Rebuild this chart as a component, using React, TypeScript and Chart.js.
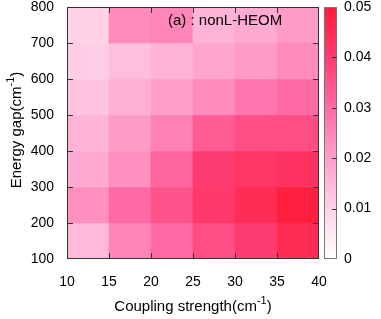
import { useEffect, useRef } from "react";
import { Chart, registerables } from "chart.js";

Chart.register(...registerables);

// ---- data ----
const xStarts = [10, 15, 20, 25, 30, 35];
const xStep = 5;
const yStarts = [100, 200, 300, 400, 500, 600, 700];
const yStep = 100;

const row100 = [0.015, 0.025, 0.03, 0.036, 0.04, 0.045];
const row200 = [0.023, 0.03, 0.035, 0.041, 0.045, 0.049];
const row300 = [0.018, 0.023, 0.031, 0.04, 0.042, 0.043];
const row400 = [0.016, 0.021, 0.026, 0.033, 0.036, 0.036];
const row500 = [0.013, 0.017, 0.02, 0.024, 0.028, 0.03];
const row600 = [0.011, 0.014, 0.016, 0.019, 0.021, 0.024];
const row700 = [0.01, 0.024, 0.025, 0.016, 0.018, 0.021];
const rows = [row100, row200, row300, row400, row500, row600, row700];

const xTickValues = [10, 15, 20, 25, 30, 35, 40];
const yTickValues = [100, 200, 300, 400, 500, 600, 700, 800];
const cbTickValues = [0, 0.01, 0.02, 0.03, 0.04, 0.05];
const cbMin = 0;
const cbMax = 0.05;

const xTitle = ["Coupling strength(cm", "-1", ")"];
const yTitle = ["Energy gap(cm", "-1", ")"];
const panelLabel = "(a) : nonL-HEOM";

// palette (fraction -> rgb)
const paletteStops: [number, number[]][] = [
  [0, [255, 255, 255]],
  [0.2, [255, 210, 232]],
  [0.4, [255, 160, 204]],
  [0.6, [255, 106, 164]],
  [0.8, [255, 60, 114]],
  [1, [255, 28, 56]],
];

function palette(v: number): string {
  const t = Math.max(0, Math.min(1, (v - cbMin) / (cbMax - cbMin)));
  for (let i = 1; i < paletteStops.length; i++) {
    const [t1, c1] = paletteStops[i];
    const [t0, c0] = paletteStops[i - 1];
    if (t <= t1) {
      const f = (t - t0) / (t1 - t0);
      const c = c0.map((a, k) => Math.round(a + (c1[k] - a) * f));
      return `rgb(${c[0]},${c[1]},${c[2]})`;
    }
  }
  const c = paletteStops[paletteStops.length - 1][1];
  return `rgb(${c[0]},${c[1]},${c[2]})`;
}

const FONT = "'Liberation Sans', Arial, Helvetica, sans-serif";

function drawSupText(
  ctx: CanvasRenderingContext2D,
  cx: number,
  cy: number,
  parts: string[],
  size: number,
  rotate: boolean
) {
  ctx.save();
  ctx.translate(cx, cy);
  if (rotate) ctx.rotate(-Math.PI / 2);
  const big = `${size}px ${FONT}`;
  const small = `${Math.round(size * 0.7)}px ${FONT}`;
  ctx.font = big;
  const w0 = ctx.measureText(parts[0]).width;
  const w2 = ctx.measureText(parts[2]).width;
  ctx.font = small;
  const w1 = ctx.measureText(parts[1]).width;
  let x = -(w0 + w1 + w2) / 2;
  ctx.fillStyle = "#000";
  ctx.textBaseline = "middle";
  ctx.textAlign = "left";
  ctx.font = big;
  ctx.fillText(parts[0], x, 0);
  x += w0;
  ctx.font = small;
  ctx.fillText(parts[1], x, -size * 0.42);
  x += w1;
  ctx.font = big;
  ctx.fillText(parts[2], x, 0);
  ctx.restore();
}

const decorPlugin = {
  id: "decor",
  afterDraw(chart: any) {
    const { ctx, chartArea } = chart;
    const { left, right, top, bottom } = chartArea;
    const xs = chart.scales.x;
    const ys = chart.scales.y;
    const cs = chart.scales.cb;
    ctx.save();
    // frame
    ctx.strokeStyle = "#333";
    ctx.lineWidth = 1;
    ctx.strokeRect(left + 0.5, top + 0.5, right - left - 1, bottom - top - 1);
    // inward ticks
    ctx.beginPath();
    xTickValues.slice(1, -1).forEach((v) => {
      const px = Math.round(xs.getPixelForValue(v)) + 0.5;
      ctx.moveTo(px, bottom);
      ctx.lineTo(px, bottom - 6);
      ctx.moveTo(px, top);
      ctx.lineTo(px, top + 6);
    });
    yTickValues.slice(1, -1).forEach((v) => {
      const py = Math.round(ys.getPixelForValue(v)) + 0.5;
      ctx.moveTo(left, py);
      ctx.lineTo(left + 6, py);
      ctx.moveTo(right, py);
      ctx.lineTo(right - 6, py);
    });
    ctx.stroke();

    // colorbar
    const cbL = right + 5;
    const cbW = 13;
    const cbTop = Math.round(cs.getPixelForValue(cbMax));
    const cbBot = Math.round(cs.getPixelForValue(cbMin));
    for (let py = cbTop; py < cbBot; py++) {
      const v = cs.getValueForPixel(py + 0.5);
      ctx.fillStyle = palette(v);
      ctx.fillRect(cbL, py, cbW, 1);
    }
    ctx.strokeStyle = "#777";
    ctx.strokeRect(cbL + 0.5, cbTop + 0.5, cbW - 1, cbBot - cbTop - 1);
    ctx.strokeStyle = "#333";
    ctx.beginPath();
    cbTickValues.slice(1, -1).forEach((v) => {
      const py = Math.round(cs.getPixelForValue(v)) + 0.5;
      ctx.moveTo(cbL + cbW, py);
      ctx.lineTo(cbL + cbW - 5, py);
    });
    ctx.stroke();

    // titles
    drawSupText(ctx, (left + right) / 2, 307, xTitle, 15, false);
    drawSupText(ctx, 17, (top + bottom) / 2 - 3, yTitle, 15, true);

    // panel label
    ctx.font = `15px ${FONT}`;
    ctx.fillStyle = "#000";
    ctx.textAlign = "left";
    ctx.textBaseline = "middle";
    ctx.fillText(panelLabel, 168, 21);
    ctx.restore();
  },
};

export default function App() {
  const ref = useRef<HTMLCanvasElement>(null);
  useEffect(() => {
    const data: any[] = [];
    const colors: string[] = [];
    rows.forEach((row, i) => {
      row.forEach((v, j) => {
        data.push({ x: xStarts[j] + xStep / 2, y: [yStarts[i], yStarts[i] + yStep] });
        colors.push(palette(v));
      });
    });
    const tickFont = { family: FONT, size: 14, lineHeight: 1 };
    const chart = new Chart(ref.current as HTMLCanvasElement, {
      type: "bar",
      data: {
        datasets: [
          {
            data,
            backgroundColor: colors,
            borderWidth: 0,
            barPercentage: 1,
            categoryPercentage: 1,
            yAxisID: "y",
            xAxisID: "x",
          } as any,
        ],
      },
      options: {
        animation: false,
        responsive: false,
        devicePixelRatio: 1,
        layout: { padding: { top: 7, left: 0, right: 0, bottom: 0 } },
        plugins: { legend: { display: false }, tooltip: { enabled: false } },
        scales: {
          x: {
            type: "linear",
            min: 10,
            max: 40,
            offset: false,
            grid: { display: false, drawTicks: true, tickLength: 16 },
            border: { display: false },
            ticks: { stepSize: 5, font: tickFont, color: "#000", padding: 0, maxRotation: 0 },
            afterFit: (s: any) => {
              s.height = 60;
            },
          },
          y: {
            type: "linear",
            min: 100,
            max: 800,
            grid: { display: false, drawTicks: true, tickLength: 13 },
            border: { display: false },
            ticks: { stepSize: 100, font: tickFont, color: "#000", padding: 0 },
            afterFit: (s: any) => {
              s.width = 67;
            },
          },
          cb: {
            type: "linear",
            position: "right",
            min: cbMin,
            max: cbMax,
            grid: { display: false, drawTicks: true, tickLength: 25 },
            border: { display: false },
            ticks: { stepSize: 0.01, font: tickFont, color: "#000", padding: 0 },
            afterFit: (s: any) => {
              s.width = 62;
            },
          },
        },
      } as any,
      plugins: [decorPlugin],
    });
    return () => chart.destroy();
  }, []);
  return (
    <div style={{ position: "fixed", left: 0, top: 0, width: 381, height: 319, background: "#fff" }}>
      <canvas ref={ref} width={381} height={319} style={{ display: "block", width: 381, height: 319 }} />
    </div>
  );
}
